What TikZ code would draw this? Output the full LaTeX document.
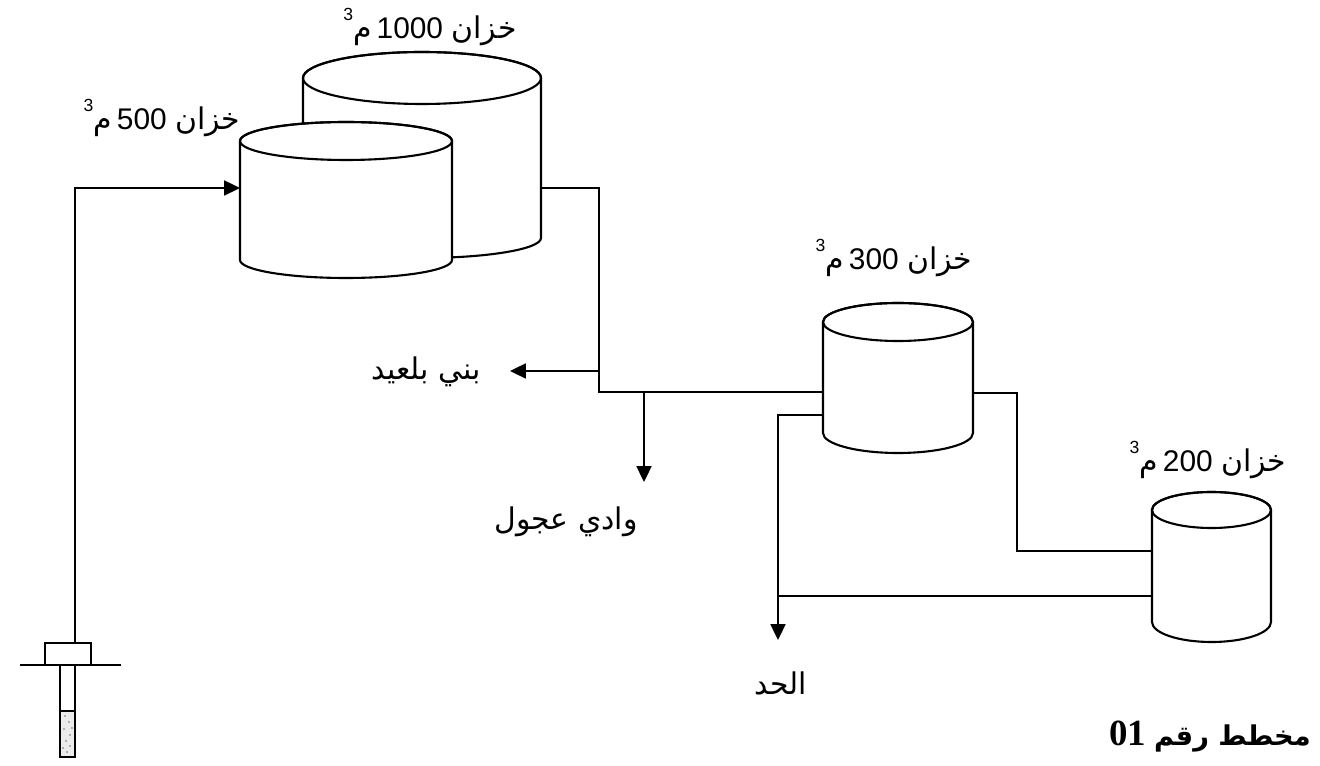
\documentclass[tikz,border=0pt]{standalone}
\usepackage{fontspec}
\setmainfont{Liberation Sans}
\newfontfamily\arabicfont[Script=Arabic]{DejaVu Sans}
\newfontfamily\serifdigits{Liberation Serif}
\usetikzlibrary{arrows.meta}
\TeXXeTstate=1

% right-to-left Arabic run
\newcommand\arw[1]{{\arabicfont\beginR #1\endR}}
% tank caption: "tank N m^3"
\newcommand\tankcap[1]{\raisebox{0.62em}{\fontsize{10}{10}\selectfont 3}\arw{م}\,#1\ \arw{خزان}}

% cylinder: name, centre x, top-centre y, bottom-corner y, x radius, top y radius, bottom y radius
\newcommand\drawtank[7]{%
  \filldraw[tankline, fill=white]
    (#2-#5,-#3) -- (#2-#5,-#4)
    arc[start angle=180, end angle=360, x radius={#5*0.02cm}, y radius={#7*0.02cm}]
    -- (#2+#5,-#3)
    arc[start angle=0, end angle=180, x radius={#5*0.02cm}, y radius={#6*0.02cm}]
    -- cycle;
  \draw[tankline] (#2,-#3) ellipse[x radius={#5*0.02cm}, y radius={#6*0.02cm}];
  \node[inner sep=0, outer sep=0, minimum width={2*#5*0.02cm},
        minimum height={(#4-#3)*0.02cm}] (#1) at (#2,{-(#3+#4)/2}) {};%
}

\begin{document}
\begin{tikzpicture}[x=0.02cm, y=0.02cm,
    pipe/.style={line width=1.1pt},
    tankline/.style={line width=1.2pt},
    flow/.style={pipe, -{Triangle[length=9pt, width=8.5pt]}},
    lbl/.style={font=\fontsize{17}{19}\selectfont, inner sep=0},
    ttl/.style={font=\bfseries, inner sep=0}]

\useasboundingbox (0,0) rectangle (1320,-766);

% storage tanks (the 500 tank stands in front of the 1000 tank)
\drawtank{t1000}{422}{78}{238}{119}{26}{20}
\drawtank{t500}{346}{141}{260}{106}{19}{18}
\drawtank{t300}{898}{322}{433}{75}{19}{20}
\drawtank{t200}{1211.5}{510}{622}{59.5}{18}{20}

% tank captions
\node[lbl] (cap1000) at (430,-27)  {\tankcap{1000}};
\node[lbl] (cap500)  at (162,-118) {\tankcap{500}};
\node[lbl] (cap300)  at (894,-258) {\tankcap{300}};
\node[lbl] (cap200)  at (1208,-460) {\tankcap{200}};

% borehole
\draw[pipe] (20,-665) coordinate (gl) -- (121,-665) coordinate (gr);
\node[draw, pipe, fill=white, minimum width=0.92cm, minimum height=0.44cm,
      inner sep=0, outer sep=0] (wellhead) at (68,-654) {};
\draw[pipe] (wellhead.south -| 60,0) coordinate (casingL) rectangle (75,-757);
\draw[pipe] (60,-711) -- (75,-711);
\fill[black!8] (60.8,-711.8) rectangle (74.2,-756.2);
\foreach \p in {(65,-716),(69,-722),(64,-729),(70,-735),(66,-741),(63,-748),(70,-746),(67,-752),(72,-728)}
  \fill[black!55] \p circle[radius=0.5pt];

% supply main from the borehole to the 500 tank
\coordinate (riser) at (75,-643);
\coordinate (riserTop) at (75,-188);
\draw[flow] (riser) -- (riserTop) -- (t500.west |- riserTop);

% outlet of the 1000 tank
\coordinate (b1) at (599,-188);
\coordinate (b2) at (599,-392);
\coordinate (b3) at (599,-371);
\coordinate (b4) at (644,-392);
\draw[pipe] (t1000.east |- b1) -- (b1) -- (b2) -- (t300.west |- b2);
\coordinate (bniEnd) at (510,-371);
\draw[flow] (b3) -- (bniEnd);
\coordinate (wadiEnd) at (644,-482);
\draw[flow] (b4) -- (wadiEnd);
\node[lbl, anchor=east] (bni) at (481,-372) {\arw{بني بلعيد}};
\node[lbl] (wadi) at (566,-522) {\arw{وادي عجول}};

% connections of the 300 and 200 tanks
\coordinate (c1) at (778,-415);
\coordinate (hadEnd) at (778,-640);
\draw[flow] (t300.west |- c1) -- (c1) -- (hadEnd);
\coordinate (d1) at (1017,-393);
\coordinate (d2) at (1017,-551);
\draw[pipe] (t300.east |- d1) -- (d1) -- (d2) -- (t200.west |- d2);
\coordinate (e1) at (778,-596);
\draw[pipe] (t200.west |- e1) -- (e1);
\node[lbl] (had) at (781,-683) {\arw{الحد}};

% drawing title
\node[ttl, anchor=east] (title) at (1311,-737)
  {{\fontsize{21}{24}\selectfont\serifdigits 01}\hspace{0.45em}{\fontsize{15.5}{18}\selectfont\arw{مخطط رقم}}};
\end{tikzpicture}
\end{document}
